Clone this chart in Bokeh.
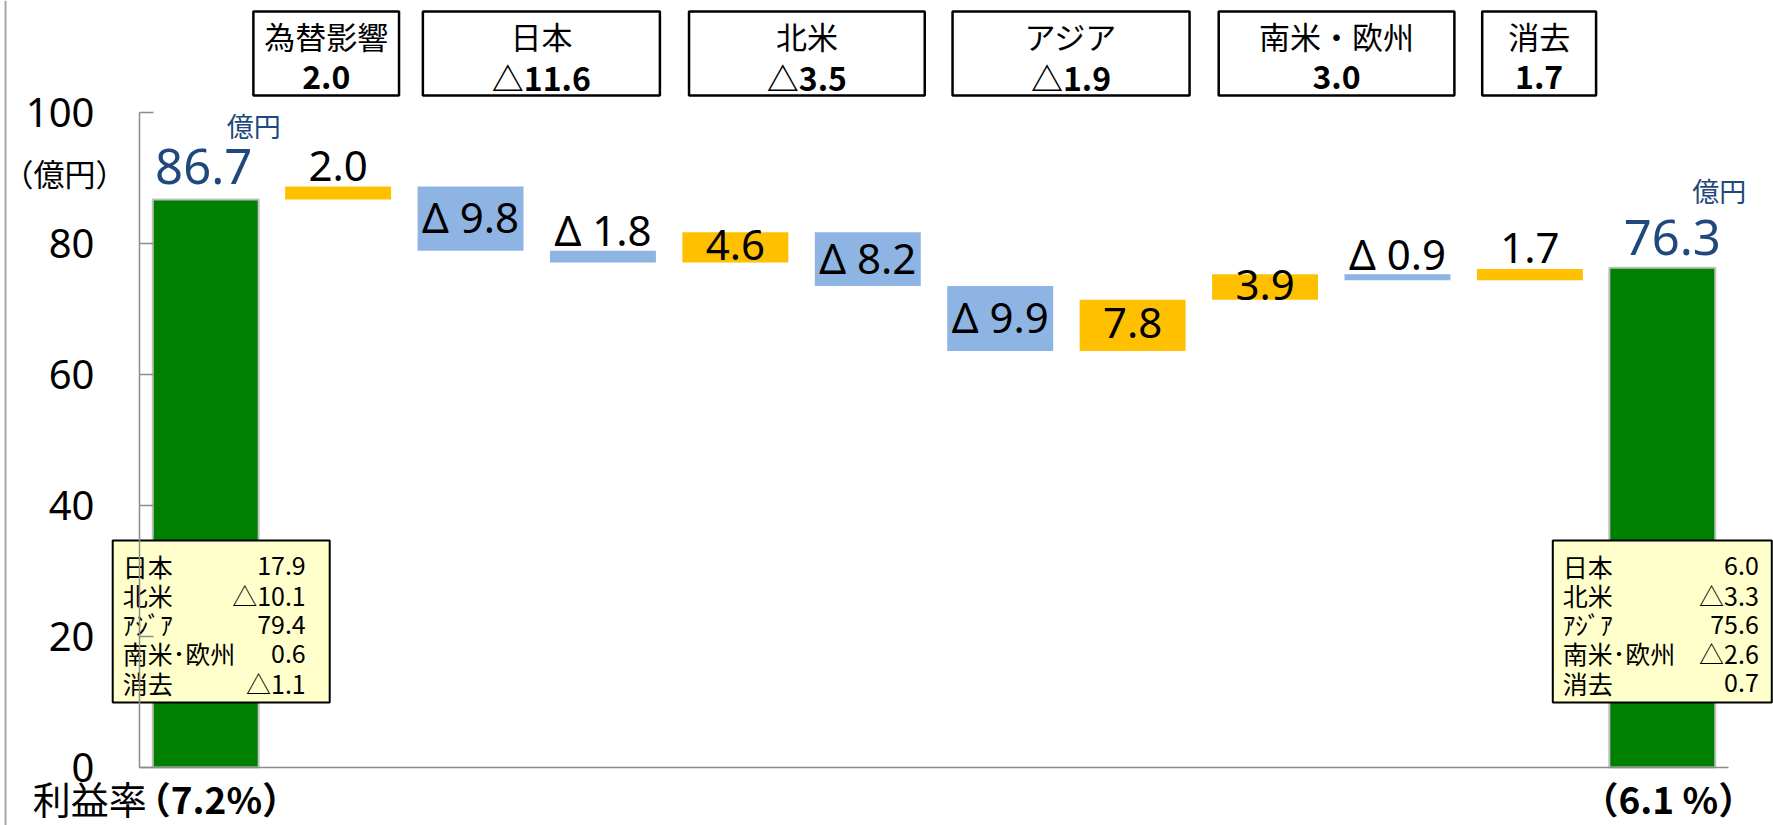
from bokeh.plotting import figure
from bokeh.models import Range1d, LinearAxis, FixedTicker, ColumnDataSource, Span
from bokeh.core.properties import value
from bokeh.embed import file_html
from bokeh.resources import INLINE

# ---------------- data ----------------
start_total = 86.7
end_total = 76.3
step_names = ["為替影響", "日本①", "日本②", "北米①", "北米②", "アジア①", "アジア②",
              "南米・欧州①", "南米・欧州②", "消去"]
step_values = [2.0, -9.8, -1.8, 4.6, -8.2, -9.9, 7.8, 3.9, -0.9, 1.7]
header_labels = ["為替影響", "日本", "北米", "アジア", "南米・欧州", "消去"]
header_values = [2.0, -11.6, -3.5, -1.9, 3.0, 1.7]
header_first = [1, 2, 4, 6, 8, 10]
header_last = [1, 3, 5, 7, 9, 10]
region_names = ["日本", "北米", "ｱｼﾞｱ", "南米･欧州", "消去"]
start_breakdown = [17.9, -10.1, 79.4, 0.6, -1.1]
end_breakdown = [6.0, -3.3, 75.6, -2.6, 0.7]
margin_label = "利益率"
margins = [7.2, 6.1]
y_ticks = [0, 20, 40, 60, 80, 100]
unit_label = "億円"
axis_unit_label = "（億円）"

# ---------------- styles / geometry ----------------
W, H = 1773, 825
SX = 1589 / 12.0          # px per category
SY = 655 / 100.0          # px per unit of value
AX_LEFT = 139             # px of the value axis
ZERO_Y = 767              # px of value 0
x0 = -0.5 - AX_LEFT / SX
y0 = -(H - ZERO_Y) / SY
def dx(px): return px / SX
def dy(px): return px / SY
def ypx(py): return (ZERO_Y - py) / SY   # screen row -> value units

GREEN = "#008000"
ORANGE = "#FFC000"
BLUE = "#8EB4E3"
NAVY = "#1F497D"
AXIS_GRAY = "#8c8c8c"
JP = "Noto Sans CJK JP"
LAT = "Noto Sans"

p = figure(width=W, height=H, x_range=Range1d(x0, x0 + W / SX), y_range=Range1d(y0, y0 + H / SY),
           x_axis_type=None, y_axis_type=None, toolbar_location=None,
           output_backend="svg", min_border=0)
p.outline_line_color = None
p.background_fill_color = "white"

# axes
yaxis = LinearAxis(fixed_location=-0.5, bounds=(0, 100), ticker=FixedTicker(ticks=y_ticks))
yaxis.axis_line_color = AXIS_GRAY
yaxis.axis_line_width = 1.5
yaxis.major_tick_line_color = AXIS_GRAY
yaxis.major_tick_line_width = 1.5
yaxis.major_tick_in = 14
yaxis.major_tick_out = 0
yaxis.minor_tick_line_color = None
yaxis.major_label_text_font = LAT
yaxis.major_label_text_font_size = "40px"
yaxis.major_label_text_color = "black"
yaxis.major_label_standoff = 45
p.add_layout(yaxis, "left")

xaxis = LinearAxis(fixed_location=0, bounds=(-0.5, 11.5), ticker=FixedTicker(ticks=[]))
xaxis.axis_line_color = AXIS_GRAY
xaxis.axis_line_width = 1.5
xaxis.major_tick_line_color = None
xaxis.minor_tick_line_color = None
xaxis.major_label_text_font_size = "0px"
p.add_layout(xaxis, "below")

# left border line of the chart area
p.add_layout(Span(location=x0 + dx(5), dimension="height", line_color="#a6a6a6", line_width=2))

# ---------------- waterfall ----------------
n_steps = len(step_values)
xs, bottoms, tops, colors = [], [], [], []
level = start_total
for i, v in enumerate(step_values):
    new = level + v
    xs.append(i + 1)
    bottoms.append(min(level, new))
    tops.append(max(level, new))
    colors.append(ORANGE if v >= 0 else BLUE)
    level = new
last_x = n_steps + 1

tot_src = ColumnDataSource(dict(x=[0, last_x], top=[start_total, end_total]))
p.vbar(x="x", top="top", bottom=0, width=0.8, source=tot_src,
       fill_color=GREEN, line_color="#bfbfbf", line_width=2)

step_src = ColumnDataSource(dict(x=xs, bottom=bottoms, top=tops, color=colors))
p.vbar(x="x", top="top", bottom="bottom", width=0.8, source=step_src,
       fill_color="color", line_color=None)

def fmt_step(v):
    return ("Δ %.1f" % abs(v)) if v < 0 else "%.1f" % v

lab_x, lab_y, lab_t = [], [], []
for i, v in enumerate(step_values):
    lab_x.append(xs[i])
    lab_t.append(fmt_step(v))
    if abs(v) >= 3.0:
        lab_y.append((bottoms[i] + tops[i]) / 2 + dy(2))
    else:
        lab_y.append(tops[i] + dy(21))
p.text(x=lab_x, y=lab_y, text=lab_t, text_font=value(LAT), text_font_size="42px",
       text_align="center", text_baseline="middle", text_color="black")

# totals
tot_x = [0 + dx(-2), last_x + dx(10)]
p.text(x=tot_x, y=[start_total + dy(33), end_total + dy(30)],
       text=["%.1f" % start_total, "%.1f" % end_total],
       text_font=value(LAT), text_font_size="49px", text_align="center",
       text_baseline="middle", text_color=NAVY)
p.text(x=[tot_x[0] + dx(23), tot_x[1] + dx(20)],
       y=[start_total + dy(74), end_total + dy(77)], text=[unit_label, unit_label],
       text_font=value(JP), text_font_size="27px", text_align="left",
       text_baseline="middle", text_color=NAVY)

# axis unit
p.text(x=[-0.5 + dx(-75)], y=[100 - dy(60)], text=[axis_unit_label], text_font=value(JP),
       text_font_size="31px", text_align="center", text_baseline="middle", text_color="black")

# ---------------- header boxes ----------------
pad_l = [0.64, 0.36, 0.35, 0.36, 0.35, 0.36]
pad_r = [0.46, 0.43, 0.43, 0.43, 0.43, 0.50]
hl = [f - a for f, a in zip(header_first, pad_l)]
hr = [l + b for l, b in zip(header_last, pad_r)]
p.quad(left=hl, right=hr, top=ypx(11), bottom=ypx(95), fill_color="white",
       line_color="black", line_width=2.5)
hc = [(a + b) / 2 for a, b in zip(hl, hr)]
p.text(x=hc, y=[ypx(35)] * len(hc), text=header_labels, text_font=value(JP),
       text_font_size="31px", text_align="center", text_baseline="middle", text_color="black")
def fmt_head(v):
    return ("△%.1f" % abs(v)) if v < 0 else "%.1f" % v
p.text(x=hc, y=[ypx(76)] * len(hc), text=[fmt_head(v) for v in header_values],
       text_font=value(JP), text_font_size="32px", text_font_style="bold",
       text_align="center", text_baseline="middle", text_color="black")

# ---------------- breakdown boxes ----------------
def fmt_box(v):
    return ("△%.1f" % abs(v)) if v < 0 else "%.1f" % v

boxes = [
    (0, -93, 124, 10, -24, start_breakdown),
    (last_x, -109.5, 109.5, 10, -13, end_breakdown),
]
for cx, l_px, r_px, t_px, v_px, vals in boxes:
    bl = cx + dx(l_px)
    br = cx + dx(r_px)
    p.quad(left=[bl], right=[br], top=[ypx(540)], bottom=[ypx(702)],
           fill_color="#FFFFCC", line_color="black", line_width=2)
    ry = [ypx(565 + 29.3 * k) for k in range(len(region_names))]
    p.text(x=[bl + dx(t_px)] * len(region_names), y=ry, text=region_names,
           text_font=value(JP), text_font_size="25px", text_align="left",
           text_baseline="middle", text_color="black")
    p.text(x=[br + dx(v_px)] * len(vals), y=ry, text=[fmt_box(v) for v in vals],
           text_font=value(JP), text_font_size="25px", text_align="right",
           text_baseline="middle", text_color="black")

# ---------------- profit margins ----------------
my = ypx(797)
p.text(x=[0 + dx(-173)], y=[my], text=[margin_label], text_font=value(JP),
       text_font_size="38px", text_align="left", text_baseline="middle", text_color="black")
p.text(x=[0 + dx(-72)], y=[my], text=["（%.1f%%）" % margins[0]], text_font=value(JP),
       text_font_size="37px", text_font_style="bold", text_align="left",
       text_baseline="middle", text_color="black")
p.text(x=[last_x + dx(6)], y=[my], text=["（%.1f %%）" % margins[1]], text_font=value(JP),
       text_font_size="37px", text_font_style="bold", text_align="center",
       text_baseline="middle", text_color="black")

open("out.html", "w").write(file_html(p, INLINE))
